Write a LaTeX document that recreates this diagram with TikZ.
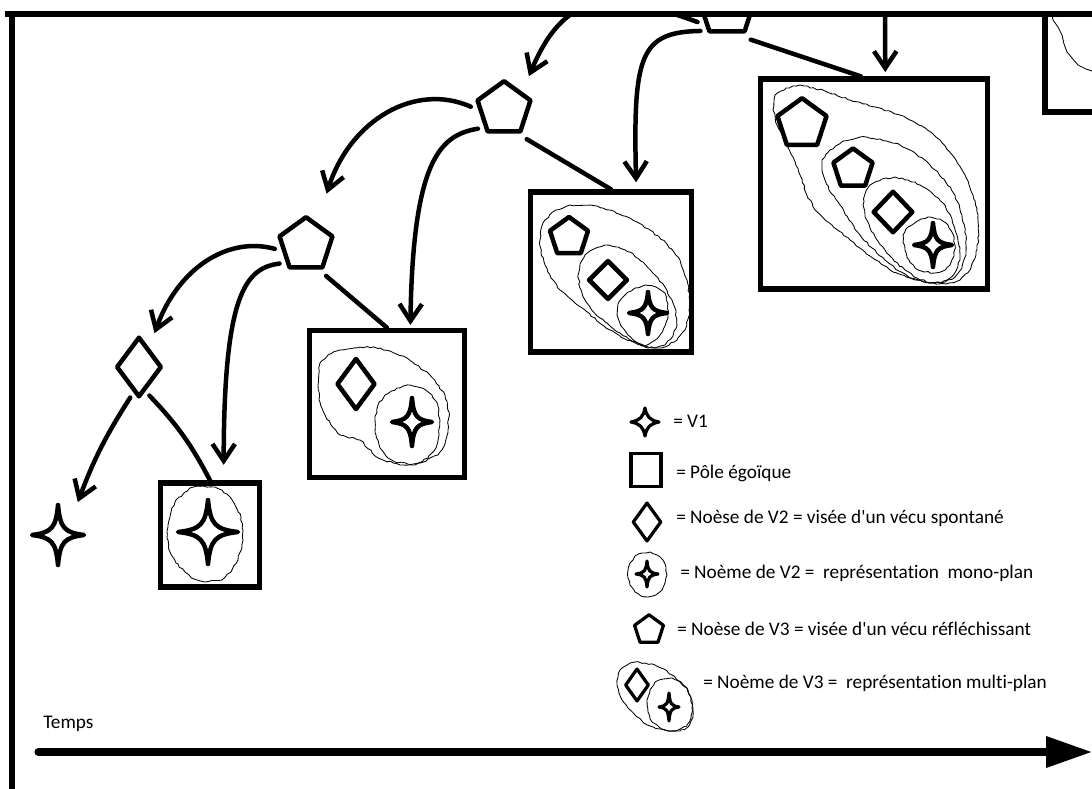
\documentclass[tikz,border=0pt]{standalone}
\usepackage{fontspec}
\setmainfont{Carlito}[Ligatures=NoCommon]
\usetikzlibrary{arrows.meta, shapes.geometric, decorations.pathmorphing, calc}

\newcommand{\sparkle}[5][.08]{%
  \node[sparkle node, minimum size=#5*0.05cm] (#2) at #3 {};
  \draw[shift={(#2)}, sparkle line] (0,-#5) .. controls (#1*#4,-3*#1*#5) and (3*#1*#4,-#1*#5) .. (#4,0)
    .. controls (3*#1*#4,#1*#5) and (#1*#4,3*#1*#5) .. (0,#5)
    .. controls (-#1*#4,3*#1*#5) and (-3*#1*#4,#1*#5) .. (-#4,0)
    .. controls (-3*#1*#4,-#1*#5) and (-#1*#4,-3*#1*#5) .. cycle;
}

\begin{document}
\begin{tikzpicture}[x=0.025cm, y=-0.025cm,
  shape line/.style={line width=3.2pt, line join=round},
  noese3/.style={regular polygon, regular polygon sides=5, draw, shape line, inner sep=0pt, outer sep=6pt},
  noese2/.style={diamond, draw, shape line, inner sep=0pt, outer sep=6pt},
  pole/.style={rectangle, draw, line width=3.8pt, inner sep=0pt},
  sparkle node/.style={circle, inner sep=0pt, outer sep=6pt},
  sparkle line/.style={shape line},
  blob/.style={line width=0.6pt, line join=round, decorate, decoration={random steps, segment length=2.5pt, amplitude=0.6pt}},
  arr/.style={-{Straight Barb[length=12pt,width=16pt]}, line width=3.2pt, line cap=round},
  conn/.style={line width=3.2pt, line cap=round},
  legend/.style={anchor=west, font=\fontsize{13.7}{16}\selectfont, inner sep=0pt},
]
\pgfmathsetseed{12}
\useasboundingbox (0,0) rectangle (1092,789);

\begin{scope}
\clip (12,14) rectangle (1092,789);

\node[noese3, minimum size=1.5cm] (p0) at (727,7) {};
\node[noese3, minimum size=1.39cm] (p2) at (504,109) {};
\node[noese3, minimum size=1.39cm] (p3) at (306,245) {};
\node[noese2, minimum width=1.27cm, minimum height=1.64cm] (d1) at (139,367) {};
\sparkle{s1}{(58,535)}{26}{30}

\node[pole, minimum width=2.48cm, minimum height=2.6cm] (b1) at (210,535) {};
\draw[blob] plot coordinates {(190,488) (203,486) (215,487) (227,494) (235,505) (241,517) (243,530) (242,546) (238,560) (231,572) (222,580) (205,582) (194,579) (185,572) (176,563) (170,552) (167,538) (168,525) (171,512) (176,500)} -- cycle;
\sparkle{s1b}{(208,532)}{30}{32}

\node[pole, minimum width=3.88cm, minimum height=3.68cm] (b2) at (387,404) {};
\draw[blob] plot coordinates {(320,363) (328,355) (340,350) (360,347) (380,348) (407,358) (430,375) (445,395) (449,412) (448,430) (445,444) (438,455) (420,463) (400,465) (378,458) (360,440) (340,435) (331,425) (325,415) (319,400) (318,385)} -- cycle;
\draw[blob] plot coordinates {(385,395) (397,388) (410,385) (422,388) (432,395) (438,406) (440,420) (439,435) (436,448) (428,458) (415,465) (395,462) (386,456) (380,448) (376,435) (375,420) (378,405)} -- cycle;
\node[noese2, minimum width=1.1cm, minimum height=1.43cm] (d2) at (356,384) {};
\sparkle{s2}{(412,422)}{20}{24}

\node[pole, minimum width=4.03cm, minimum height=4.0cm] (b3) at (611,272) {};
\draw[blob] plot coordinates {(545,220) (556,210) (570,205) (590,205) (610,210) (630,218) (650,230) (667,244) (680,260) (687,280) (690,300) (689,316) (685,330) (677,340) (665,347) (652,348) (640,345) (625,339) (610,330) (597,321) (585,310) (572,300) (560,290) (551,278) (545,265) (541,253) (540,240) (541,229)} -- cycle;
\draw[blob] plot coordinates {(585,255) (594,249) (605,245) (618,247) (630,252) (643,262) (655,275) (665,287) (672,300) (676,312) (677,325) (673,336) (665,345) (655,348) (645,347) (632,341) (620,333) (610,326) (600,318) (591,309) (585,300) (580,288) (578,275) (580,264)} -- cycle;
\draw[blob] plot coordinates {(625,295) (635,288) (645,285) (656,287) (665,293) (668,304) (668,315) (665,326) (660,335) (652,342) (645,346) (636,342) (628,335) (621,326) (617,315) (618,304)} -- cycle;
\node[noese3, minimum size=1.0cm] (p3b) at (569,237) {};
\node[noese2, minimum width=1.12cm, minimum height=1.12cm] (d3) at (608,280) {};
\sparkle{s3}{(648,313)}{19}{21}

\node[pole, minimum width=5.68cm, minimum height=5.25cm] (b4) at (874,184) {};
\draw[blob] plot coordinates {(775,95) (786,88) (800,85) (825,91) (850,100) (875,107) (900,115) (922,126) (940,140) (954,157) (965,175) (973,195) (978,215) (979,235) (976,255) (970,270) (960,280) (946,284) (930,283) (910,278) (890,270) (870,256) (850,240) (832,225) (815,210) (806,193) (800,175) (793,157) (785,140) (777,125) (773,110)} -- cycle;
\draw[blob] plot coordinates {(830,150) (843,141) (860,137) (880,139) (900,145) (916,154) (930,165) (944,179) (955,195) (962,215) (966,235) (966,252) (962,268) (955,277) (945,282) (930,283) (915,280) (899,271) (885,260) (872,248) (860,235) (849,220) (840,205) (831,193) (825,180) (822,170) (822,160)} -- cycle;
\draw[blob] plot coordinates {(870,185) (882,179) (895,177) (908,180) (920,185) (933,194) (945,205) (952,219) (957,235) (960,248) (960,260) (956,271) (950,278) (941,283) (930,283) (917,278) (905,270) (894,261) (885,250) (877,240) (870,228) (865,217) (863,205) (865,194)} -- cycle;
\draw[blob] plot coordinates {(912,225) (921,219) (930,217) (940,219) (948,225) (953,234) (955,245) (954,256) (950,265) (943,271) (935,273) (924,272) (915,268) (909,260) (905,250) (903,242) (903,235) (906,229)} -- cycle;
\node[noese3, minimum size=1.29cm] (p4a) at (802,124) {};
\node[noese3, minimum size=1.03cm] (p4b) at (853,169) {};
\node[noese2, minimum width=1.14cm, minimum height=1.19cm] (d4) at (893,212) {};
\sparkle{s4}{(933,245)}{19}{22}

\node[pole, minimum width=1.75cm, minimum height=3.1cm] (b5) at (1080,50) {};
\draw[line width=0.6pt] (1051,10) -- (1053,20) -- (1058,27) -- (1062,35) -- (1064,44) -- (1067,52) -- (1072,58) -- (1078,65) -- (1086,69) -- (1095,72);

\coordinate (in4) at (885,0);
\draw[arr, shorten >=3pt] (in4) -- (b4.84);
\draw[arr, shorten >=7.5pt] (p0.207) .. controls (610,-10) and (565,-10) .. (p2.48);
\draw[arr, shorten >=5pt] (p0.222) .. controls (640,32) and (633,55) .. (b3.73);
\draw[conn] (p0.-54) -- (b4.97);
\draw[arr, shorten >=17pt] (p2.176) .. controls (415,82) and (350,120) .. (p3.65);
\draw[arr, shorten >=2pt] (p2.217) .. controls (440,135) and (413,160) .. (b2.73);
\draw[conn] (p2.-53) -- (b3.north);
\draw[arr, shorten >=6pt] (p3.187) .. controls (228,236) and (178,268) .. (d1.64);
\draw[arr, shorten >=11pt] (p3.215) .. controls (245,268) and (224,295) .. (b1.76);
\draw[conn] (p3.-57) -- (b2.north);
\draw[arr] (d1.-106) to[bend right=6] (s1.59);
\draw[conn] (d1.-70) to[bend left=8] (b1.north);
\end{scope}

\draw[line width=3.6pt] (5,14) -- (1092,14);
\draw[line width=3.6pt] (12,14) -- (12,789);

\begin{scope}[shape line/.style={line width=2.3pt, line join=round}]
\sparkle[.12]{lg1}{(645,422)}{14}{14}
\node[rectangle, draw, line width=2.6pt, inner sep=0pt, minimum width=0.75cm, minimum height=0.83cm] (lg2) at (646,470) {};
\node[diamond, draw, shape line, inner sep=0pt, minimum width=0.72cm, minimum height=0.98cm] (lg3) at (647,522) {};
\draw[blob] plot coordinates {(635,556) (642,553) (650,552) (657,555) (663,560) (666,567) (667,575) (665,583) (662,590) (656,595) (648,597) (641,596) (635,592) (630,585) (628,578) (628,570) (630,563)} -- cycle;
\sparkle{lg4}{(647,574)}{11}{13}
\node[regular polygon, regular polygon sides=5, draw, shape line, inner sep=0pt, minimum size=0.76cm] (lg5) at (649,630) {};
\draw[blob] plot coordinates {(620,670) (627,665) (635,662) (645,663) (655,665) (664,669) (672,675) (681,682) (688,690) (692,700) (693,710) (692,719) (688,727) (680,731) (670,731) (660,729) (650,726) (642,721) (635,715) (628,708) (622,700) (619,693) (617,685) (618,677)} -- cycle;
\draw[blob] plot coordinates {(655,682) (663,679) (672,678) (680,682) (687,688) (691,697) (692,708) (691,718) (687,726) (678,730) (668,731) (659,727) (652,722) (648,712) (647,700) (650,690)} -- cycle;
\node[diamond, draw, shape line, inner sep=0pt, minimum width=0.6cm, minimum height=0.83cm] (lg6) at (637,685) {};
\sparkle{lg7}{(669,707)}{10}{14}
\end{scope}

\node[legend] (t1) at (673,421) {= V1};
\node[legend] (t2) at (676,473) {= Pôle égoïque};
\node[legend] (t3) at (676,518) {= Noèse de V2 = visée d\textquotesingle un vécu spontané};
\node[legend] (t4) at (680,573) {= Noème de V2 =~ représentation~ mono-plan};
\node[legend] (t5) at (677,629) {= Noèse de V3 = visée d\textquotesingle un vécu réfléchissant};
\node[legend] (t6) at (703,683) {= Noème de V3 =~ représentation multi-plan};

\node[legend] (temps) at (43,724) {Temps};
\coordinate (t0) at (38,752);
\coordinate (tend) at (1092,752);
\draw[line width=5pt, line cap=round, -{Triangle[length=1.15cm,width=0.75cm]}] (t0) -- (tend);
\end{tikzpicture}
\end{document}
